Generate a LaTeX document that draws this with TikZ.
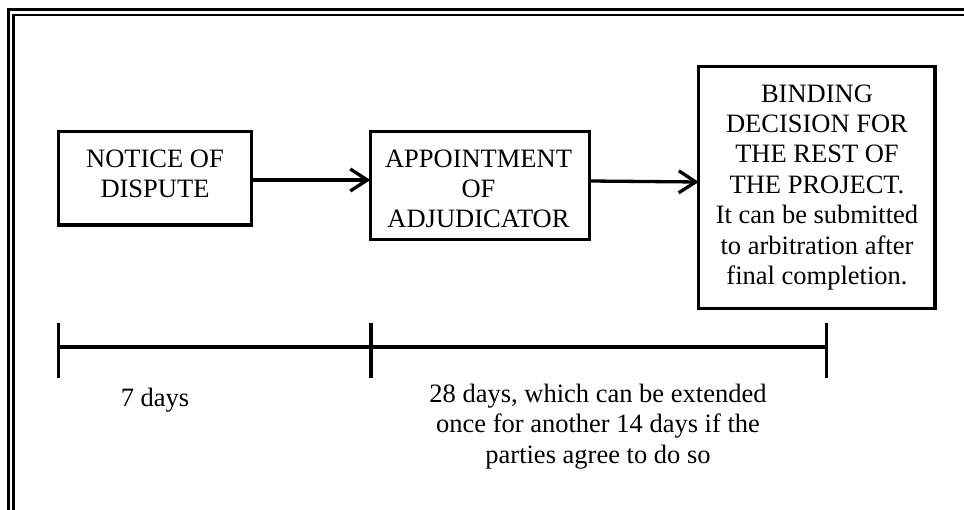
\documentclass[tikz,border=0pt]{standalone}
\usepackage{fontspec}
\setmainfont{Liberation Serif}
\usetikzlibrary{arrows.meta}
\begin{document}
\begin{tikzpicture}[x=1pt,y=-1pt,
  box/.style={draw,line width=3.3pt,inner sep=0pt,outer sep=0pt,rectangle},
  txt/.style={align=center,inner sep=0pt,anchor=north,font=\fontsize{26.5}{30.4}\selectfont},
  arr/.style={line width=3.3pt,-{Straight Barb[length=17pt,width=22pt]}},
  tl/.style={line width=3.5pt}]
\useasboundingbox (0,0) rectangle (964,510);
\begin{scope}
\clip (0,0) rectangle (964,510);
\draw[line width=2.7pt] (8.3,9.7) rectangle (1000,560);
\draw[line width=2.7pt] (13.7,15) rectangle (1000,560);
\end{scope}
% boxes
\node[box,minimum width=193.4pt,minimum height=93.4pt] (b1) at (155,178.3) {};
\node[box,minimum width=219pt,minimum height=107.6pt] (b2) at (479.8,185.5) {};
\node[box,minimum width=236.3pt,minimum height=241.6pt] (b3) at (816.9,187.5) {};
% texts
\node[txt] (t1) at (155,149.4) {NOTICE OF\\DISPUTE};
\node[txt] (t2) at (478.5,149.4) {APPOINTMENT\\OF\\ADJUDICATOR};
\node[txt] (t3) at (817,84.4) {BINDING\\DECISION FOR\\THE REST OF\\THE PROJECT.\\It can be submitted\\to arbitration after\\final completion.};
% arrows
\draw[arr] (b1.east |- 0,180) -- (b2.west |- 0,180);
\draw[arr] (b2.east |- 0,181) -- (b3.west |- 0,182);
% timeline
\coordinate (c1) at (58.7,347);
\coordinate (c2) at (371,347);
\coordinate (c3) at (826.7,347);
\draw[tl] (c1) -- (c3);
\foreach \c in {c1,c2,c3}{
  \draw[tl] ([yshift=24pt]\c) -- ([yshift=-31pt]\c);
}
\node[txt] (d1) at (155,388) {7 days};
\node[txt] (d2) at (598,384) {28 days, which can be extended\\once for another 14 days if the\\parties agree to do so};
\end{tikzpicture}
\end{document}
